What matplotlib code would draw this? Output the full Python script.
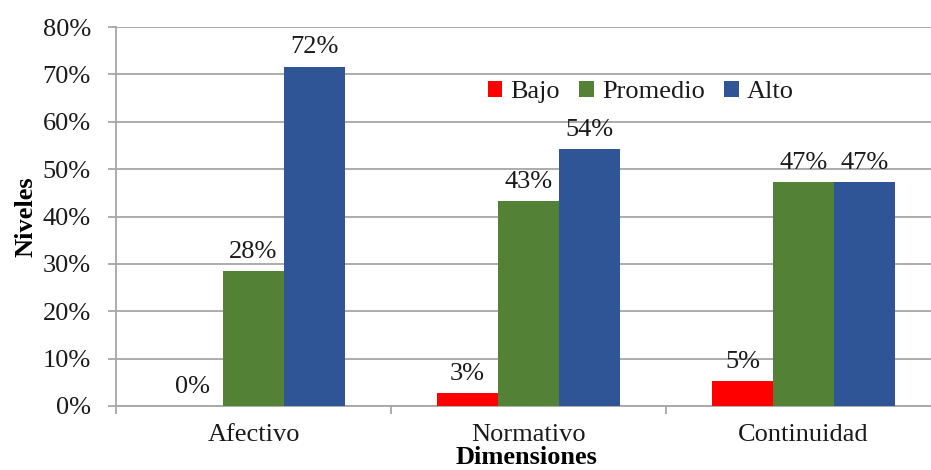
import matplotlib.pyplot as plt
import numpy as np
from matplotlib.ticker import PercentFormatter, FixedLocator

plt.rcParams['font.family'] = ['Liberation Serif', 'DejaVu Serif']

dimensiones = ['Afectivo', 'Normativo', 'Continuidad']
bajo = [0.0, 2.7, 5.3]
promedio = [28.4, 43.2, 47.3]
alto = [71.6, 54.2, 47.3]
etiquetas_bajo = ['0%', '3%', '5%']
etiquetas_promedio = ['28%', '43%', '47%']
etiquetas_alto = ['72%', '54%', '47%']

fig = plt.figure(figsize=(9.31, 4.70), dpi=100)
# plot area from x=116 to ~941 px (right side cropped), y=27..406 px
ax = fig.add_axes([116/931, 64/470, 825/931, 379/470])

x = np.arange(len(dimensiones))
w = 0.222
series = [(bajo, etiquetas_bajo, '#FF0000', 'Bajo'),
          (promedio, etiquetas_promedio, '#538135', 'Promedio'),
          (alto, etiquetas_alto, '#2F5597', 'Alto')]

for i, (vals, labs, col, name) in enumerate(series):
	pos = x + (i - 1) * w
	bars = ax.bar(pos, vals, width=w, color=col, label=name, zorder=3)
	for b, lab in zip(bars, labs):
		ax.annotate(lab, (b.get_x() + b.get_width() / 2, b.get_height()),
					xytext=(0, 6), textcoords='offset points',
					ha='center', va='bottom', fontsize=19, color='#1a1a1a')

ax.set_xlim(-0.5, 2.5)
ax.set_ylim(0, 80)
ax.set_yticks(np.arange(0, 81, 10))
ax.yaxis.set_major_formatter(PercentFormatter(decimals=0))
ax.grid(axis='y', color='#A6A6A6', linewidth=1.3, zorder=0)
ax.set_axisbelow(True)

ax.set_xticks(x)
ax.set_xticklabels(dimensiones)
ax.xaxis.set_minor_locator(FixedLocator([-0.5, 0.5, 1.5, 2.5]))
ax.tick_params(axis='x', which='major', length=0, pad=13, labelsize=19, labelcolor='#1a1a1a')
ax.tick_params(axis='x', which='minor', length=6, color='#A6A6A6', width=1.3)
ax.tick_params(axis='y', length=6, color='#A6A6A6', width=1.3, labelsize=19, pad=12,
			   labelcolor='#1a1a1a')

for s in ['top', 'right']:
	ax.spines[s].set_visible(False)
for s in ['left', 'bottom']:
	ax.spines[s].set_color('#A6A6A6')
	ax.spines[s].set_linewidth(1.3)

ax.set_ylabel('Niveles', fontsize=19, fontweight='bold', labelpad=4)
fig.text(527/931, 0.5/470, 'Dimensiones', fontsize=19, fontweight='bold',
		 ha='center', va='bottom')

ax.legend(loc='center', bbox_to_anchor=(0.636, 0.828), ncol=3, frameon=False,
		  fontsize=19, handlelength=0.55, handleheight=0.55, handletextpad=0.3,
		  columnspacing=0.75, labelcolor='#1a1a1a')

plt.savefig('out.png', dpi=100)
